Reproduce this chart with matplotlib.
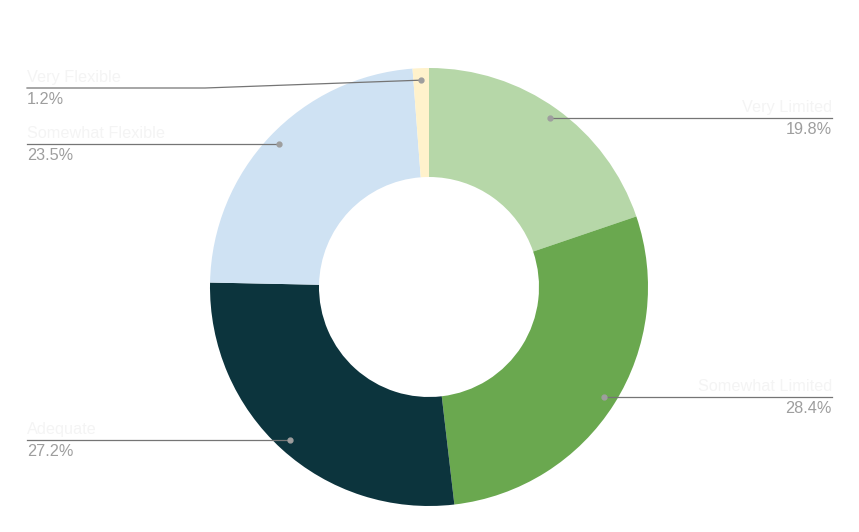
import numpy as np
import matplotlib
matplotlib.use("Agg")
import matplotlib.pyplot as plt

categories = ["Very Limited", "Somewhat Limited", "Adequate", "Somewhat Flexible", "Very Flexible"]
values = [19.8, 28.4, 27.2, 23.5, 1.2]
colors = ["#b6d7a8", "#6aa84f", "#0c343d", "#cfe2f3", "#fff2cc"]

# layout (pixel coordinates, top-left origin)
W, H = 859, 532
cx, cy = 429, 287
R_out, R_in = 219, 110
R_dot = 207
label_y = [118, 397, 440, 144, 88]
label_side = ["right", "right", "left", "left", "left"]
x_left, x_right = 27, 832

fig = plt.figure(figsize=(W / 100, H / 100), dpi=100)
ax = fig.add_axes([0, 0, 1, 1])

def Y(y):
    return H - y

wedges, _ = ax.pie(values, colors=colors, startangle=90, counterclock=False,
                   center=(cx, Y(cy)), radius=R_out,
                   wedgeprops=dict(width=R_out - R_in, linewidth=0))
ax.set_xlim(0, W)
ax.set_ylim(0, H)
ax.set_aspect("equal")
ax.axis("off")

fam = ["Liberation Sans", "DejaVu Sans"]
line_c = "#757575"
fs = 11.7
for w, cat, val, ly, side in zip(wedges, categories, values, label_y, label_side):
    ang = np.deg2rad((w.theta1 + w.theta2) / 2)
    dx = cx + R_dot * np.cos(ang)
    dy = Y(cy) + R_dot * np.sin(ang)
    xe = x_right if side == "right" else x_left
    ha = side
    if abs(Y(ly) - dy) > 3:
        knee = 205
        ax.plot([dx, knee, xe], [dy, Y(ly), Y(ly)], color=line_c, lw=0.9, zorder=4)
    else:
        dy = Y(ly)
        ax.plot([dx, xe], [dy, dy], color=line_c, lw=0.9, zorder=4)
    ax.plot([dx], [dy], "o", color="#9e9e9e", ms=3.5, zorder=5)
    ax.text(xe, Y(ly) + 3, cat, ha=ha, va="bottom", fontsize=fs,
            color="#f4f4f4", family=fam)
    ax.text(xe, Y(ly) - 4, f"{val:.1f}%", ha=ha, va="top", fontsize=fs,
            color="#9e9e9e", family=fam)

fig.savefig("out.png", dpi=100, facecolor="white")
